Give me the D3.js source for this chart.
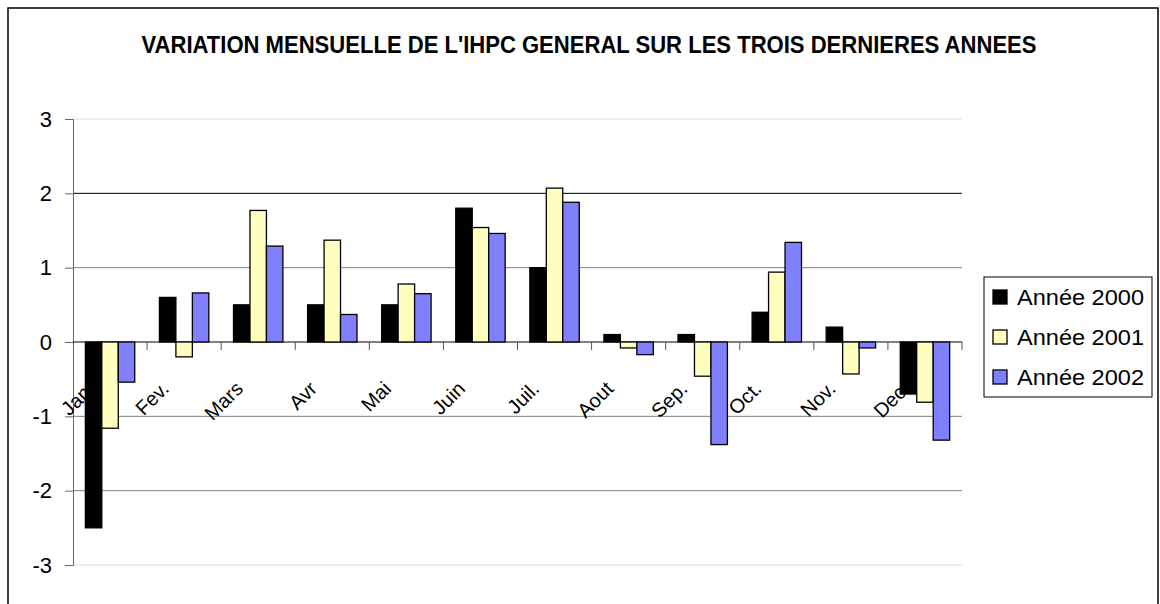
<!DOCTYPE html>
<meta charset="utf-8">
<style>
body { margin: 0; background: #fff; }
text { font-family: Arial, "Liberation Sans", sans-serif; }
</style>
<svg id="chart" width="1160" height="604"></svg>
<script src="https://d3js.org/d3.v7.min.js"></script>
<script>

var months = ["Jan.", "Fev.", "Mars", "Avr", "Mai", "Juin", "Juil.", "Aout", "Sep.", "Oct.", "Nov.", "Dec."];
var series = ["Année 2000", "Année 2001", "Année 2002"];
var v2000 = [-2.5, 0.6, 0.5, 0.5, 0.5, 1.8, 1.0, 0.1, 0.1, 0.4, 0.2, -0.7];
var v2001 = [-1.16, -0.2, 1.77, 1.37, 0.78, 1.54, 2.07, -0.08, -0.46, 0.94, -0.43, -0.81];
var v2002 = [-0.54, 0.66, 1.29, 0.37, 0.65, 1.46, 1.88, -0.17, -1.38, 1.34, -0.08, -1.32];
var yTicks = [-3, -2, -1, 0, 1, 2, 3];
var colors = ["#000000", "#ffffc0", "#8080ff"];
var title = "VARIATION MENSUELLE DE L'IHPC GENERAL SUR LES TROIS DERNIERES ANNEES";

var svg = d3.select("svg#chart");
var values = [v2000, v2001, v2002];

// plot area (note: "top" is reserved on window)
var pLeft = 73, pRight = 962, pTop = 119, pBottom = 565;

var x = d3.scaleBand()
	.domain(months)
	.range([pLeft, pRight])
	.paddingInner(0)
	.paddingOuter(0);

var xs = d3.scaleBand()
	.domain(series)
	.range([0, x.bandwidth()])
	.paddingInner(0)
	.paddingOuter(0.75);

var y = d3.scaleLinear()
	.domain([-3, 3])
	.range([pBottom, pTop]);

// outer frame
svg.append("rect")
	.attr("x", 8).attr("y", 8)
	.attr("width", 1150).attr("height", 640)
	.attr("fill", "none")
	.attr("stroke", "#000")
	.attr("stroke-width", 1.5);

svg.append("text")
	.attr("x", 589).attr("y", 53)
	.attr("text-anchor", "middle")
	.attr("font-weight", "bold")
	.attr("font-size", 23)
	.attr("textLength", 895)
	.attr("lengthAdjust", "spacingAndGlyphs")
	.text(title);

// gridlines
var gridColor = { "3": "#e2e2e2", "2": "#000", "1": "#808080", "-1": "#808080", "-2": "#808080", "-3": "#d8d8d8" };
svg.append("g").selectAll("line")
	.data(yTicks.filter(function(d) { return d !== 0; }))
	.enter().append("line")
		.attr("x1", pLeft).attr("x2", pRight)
		.attr("y1", function(d) { return y(d); })
		.attr("y2", function(d) { return y(d); })
		.attr("stroke", function(d) { return gridColor[d]; })
		.attr("stroke-width", 1);

// y axis
var yAxis = svg.append("g")
	.attr("transform", "translate(" + pLeft + ",0)")
	.call(d3.axisLeft(y).tickValues(yTicks).tickSize(8).tickPadding(13)
		.tickFormat(function(d) { return String(d); }));
yAxis.select(".domain").attr("stroke", "#666");
yAxis.selectAll(".tick line").attr("stroke", "#666");
yAxis.selectAll("text").attr("font-size", 22).attr("fill", "#000")
	.attr("font-family", "Arial, 'Liberation Sans', sans-serif");

// category labels (drawn under the bars)
svg.append("g").selectAll("text")
	.data(months)
	.enter().append("text")
		.attr("transform", function(d) {
			return "translate(" + (x(d) + x.bandwidth() / 2 - 14) + "," + (y(0) + 48) + ") rotate(-45)";
		})
		.attr("text-anchor", "end")
		.attr("font-size", 20)
		.text(function(d) { return d; });

// x axis line + ticks at category boundaries
svg.append("line")
	.attr("x1", pLeft).attr("x2", pRight)
	.attr("y1", y(0)).attr("y2", y(0))
	.attr("stroke", "#000");
svg.append("g").selectAll("line")
	.data(months)
	.enter().append("line")
		.attr("x1", function(d) { return x(d) + x.bandwidth(); })
		.attr("x2", function(d) { return x(d) + x.bandwidth(); })
		.attr("y1", y(0)).attr("y2", y(0) + 8)
		.attr("stroke", "#555");

// bars
var groups = svg.append("g").selectAll("g")
	.data(months)
	.enter().append("g")
		.attr("transform", function(d) { return "translate(" + x(d) + ",0)"; });

groups.selectAll("rect")
	.data(function(d, i) {
		return series.map(function(s, k) { return { s: s, k: k, v: values[k][i] }; });
	})
	.enter().append("rect")
		.attr("x", function(d) { return xs(d.s); })
		.attr("width", xs.bandwidth())
		.attr("y", function(d) { return Math.min(y(d.v), y(0)); })
		.attr("height", function(d) { return Math.abs(y(d.v) - y(0)); })
		.attr("fill", function(d) { return colors[d.k]; })
		.attr("stroke", "#000")
		.attr("stroke-width", 1.3);

// legend
var legend = svg.append("g").attr("transform", "translate(984,277)");
legend.append("rect")
	.attr("width", 168).attr("height", 120)
	.attr("fill", "#fff")
	.attr("stroke", "#000")
	.attr("stroke-width", 1);

var items = legend.selectAll("g.item")
	.data(series)
	.enter().append("g")
		.attr("class", "item")
		.attr("transform", function(d, i) { return "translate(9," + (20 + i * 40) + ")"; });
items.append("rect")
	.attr("x", 0).attr("y", -7)
	.attr("width", 14).attr("height", 14)
	.attr("fill", function(d, i) { return colors[i]; })
	.attr("stroke", "#000")
	.attr("stroke-width", 1.3);
items.append("text")
	.attr("x", 24).attr("y", 8)
	.attr("font-size", 22)
	.attr("textLength", 127)
	.attr("lengthAdjust", "spacingAndGlyphs")
	.text(function(d) { return d; });

</script>
